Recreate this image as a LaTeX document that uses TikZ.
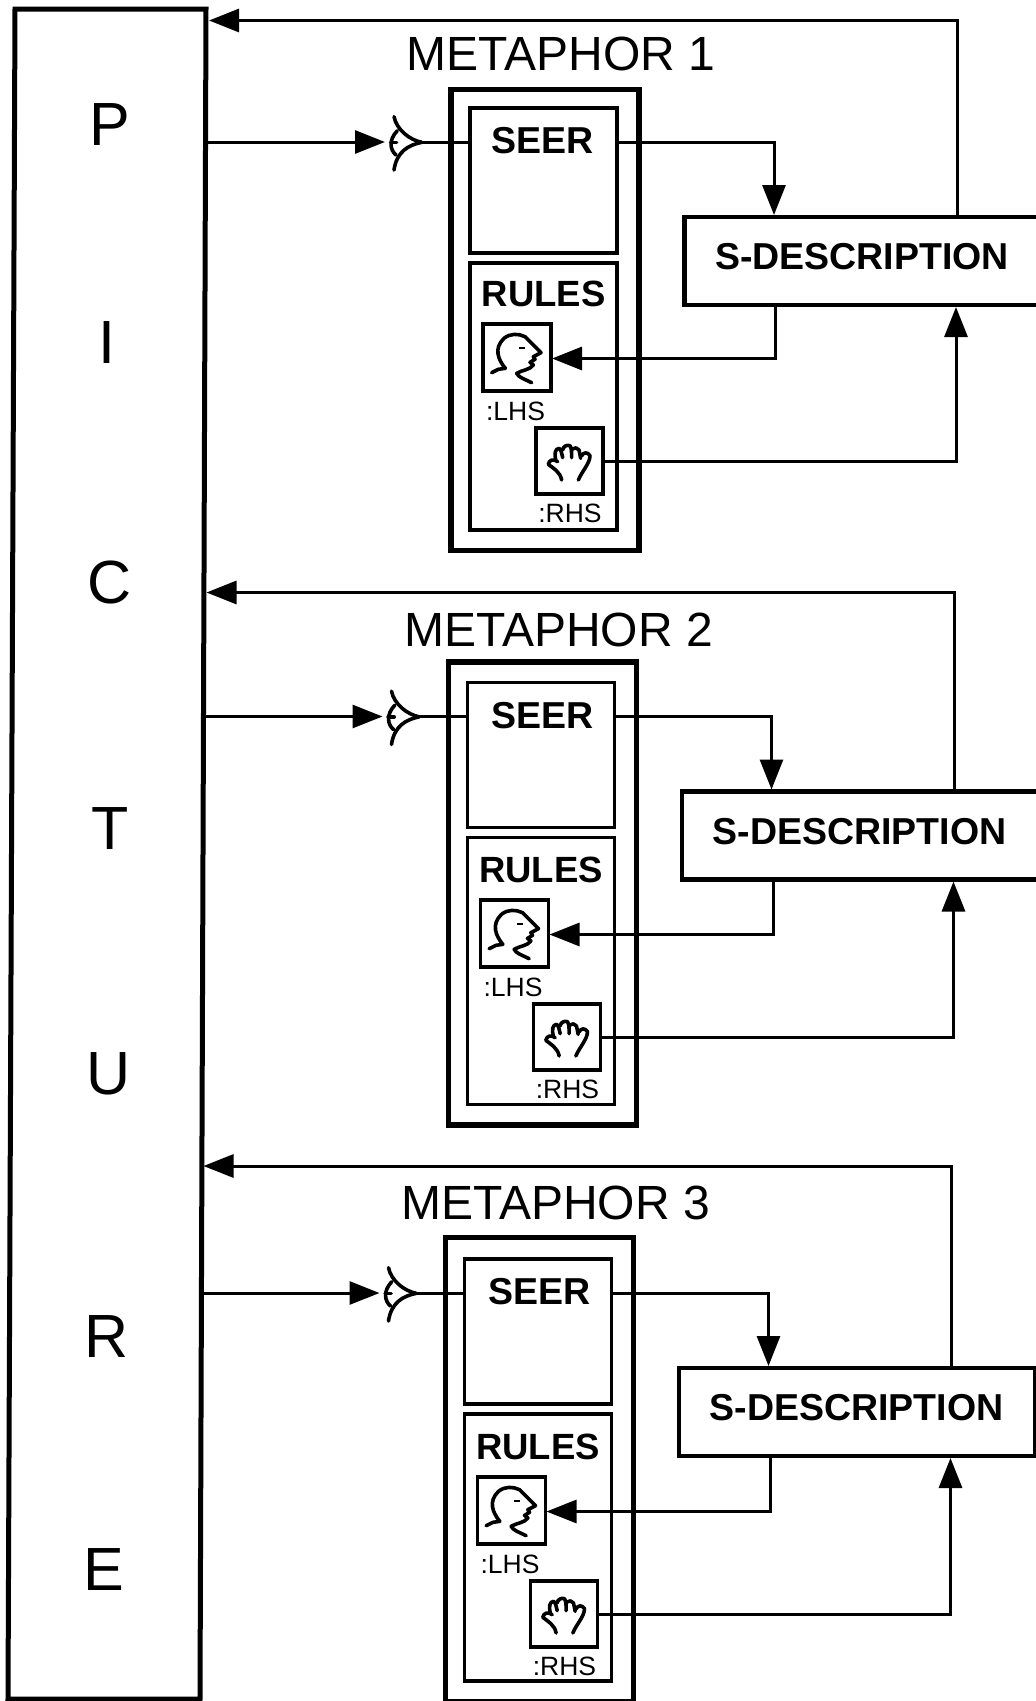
\documentclass[tikz,border=0pt]{standalone}
\usepackage{fontspec}
\setmainfont{Liberation Sans}
\usetikzlibrary{arrows.meta}
\tikzset{
  thickbox/.style={draw,line width=5.5pt,inner sep=0pt,outer sep=0pt},
  midbox/.style={draw,line width=4.5pt,inner sep=0pt,outer sep=0pt},
  innerbox/.style={draw,line width=3.2pt,inner sep=0pt,outer sep=0pt},
  conn/.style={draw,line width=3pt,line join=miter},
  head/.style={-{Triangle[length=30pt,width=23pt]}},
  icon/.style={line width=3.6pt,line cap=round,line join=round},
  titletext/.style={font=\fontsize{48}{48}\selectfont,inner sep=0pt},
  boldtext/.style={font=\fontsize{37.5}{37.5}\selectfont\bfseries,inner sep=0pt},
  rulestext/.style={font=\fontsize{36.5}{36.5}\selectfont\bfseries,inner sep=0pt},
  smalltext/.style={font=\fontsize{26.5}{26.5}\selectfont,inner sep=0pt},
  bigletter/.style={font=\fontsize{61}{61}\selectfont,inner sep=0pt},
}
% #1,#2 group shift; #3 number; #4 SEER text dx; #5 lower block dy; #6 return line dy; #7 title dy; #8 outer top dy
\newcommand{\metaphorgroup}[8]{%
 \begin{scope}[shift={(#1,#2)}]
  \node[titletext] (title#3) at (561,{54+#7}) {METAPHOR #3};
  \node[thickbox,minimum width=188pt,minimum height={461pt-(#8)*1pt}] (outer#3) at (545,{320+(#8)/2}) {};
  \node[innerbox,minimum width=147pt,minimum height=145pt] (seerbox#3) at (543.5,180.5) {};
  \node[boldtext] (seer#3) at ({543+#4},141) {SEER};
  \node[innerbox,minimum width=147pt,minimum height=267pt] (rulesbox#3) at (543.5,396.5) {};
  \node[rulestext] (rules#3) at (543.5,{294+#5}) {RULES};
  \node[innerbox,minimum width=68pt,minimum height=67pt] (lhs#3) at (517,{357.5+#5}) {};
  \node[innerbox,minimum width=67pt,minimum height=66pt] (rhs#3) at (569.5,{461+#5}) {};
  \node[smalltext] (lhslabel#3) at (515.5,{411+#5}) {:LHS};
  \node[smalltext] (rhslabel#3) at (570,{513+#5}) {:RHS};
  \node[midbox,minimum width=356pt,minimum height=88pt] (sdesc#3) at (862.5,261) {};
  \node[boldtext] (sdesctext#3) at (862,257) {S-DESCRIPTION};
  % connector ends
  \coordinate (eyetip#3) at (421,142);
  \coordinate (eyeback#3) at (385,142);
  \coordinate (picout#3) at (206,142);
  \coordinate (picin#3) at (209,{20.5+#6});
  \coordinate (sdtop#3) at (774,215);
  \coordinate (sdback#3) at (957,215);
  \coordinate (sdleft#3) at (775.5,305);
  \coordinate (sdright#3) at (956,307);
  \coordinate (lhsin#3) at (552,{358.5+#5});
  % connectors
  \draw[conn,head] (picout#3) -- (eyeback#3);
  \draw[conn] (eyetip#3) -- (eyetip#3 -| seerbox#3.west);
  \draw[conn,head] (eyetip#3 -| seerbox#3.east) -| (sdtop#3);
  \draw[conn,head] (sdleft#3) |- (lhsin#3);
  \draw[conn,head] (rhs#3.east) -| (sdright#3);
  \draw[conn,head] (sdback#3) |- (picin#3);
  % eye
  \begin{scope}[shift={(380,110)},scale=1/3]
   \draw[icon] (42,20) .. controls (50,60) and (90,90) .. (125,97);
   \draw[icon] (125,97) .. controls (85,105) and (50,125) .. (42,180);
   \draw[icon] (52,62) .. controls (25,90) and (30,120) .. (48,135);
   \draw[icon] (32,97) -- (50,97);
  \end{scope}
  % face
  \begin{scope}[shift={(480,{320+#5})},scale=1/3]
   \draw[icon] (35,158) -- (55,148) -- (76,145) .. controls (55,120) and (40,85) .. (72,55)
     .. controls (90,40) and (115,40) .. (135,50) -- (183,98) -- (160,110) -- (165,118) -- (150,127)
     -- (160,135) .. controls (150,150) and (125,150) .. (110,160)
     .. controls (115,172) and (135,178) .. (155,188);
   \fill (118,80) rectangle (135,88);
  \end{scope}
  % hand
  \begin{scope}[shift={(535,{425+#5})},scale=1/3]
   \draw[icon] (80,165) .. controls (75,140) and (55,130) .. (40,118)
     .. controls (42,105) and (55,100) .. (68,110)
     (62,105) .. controls (58,85) and (60,72) .. (72,70) .. controls (78,72) and (80,85) .. (83,98)
     (83,75) .. controls (84,65) and (95,58) .. (105,62) .. controls (110,70) and (110,85) .. (110,98)
     (112,72) .. controls (118,66) and (128,68) .. (132,75) .. controls (135,85) and (136,90) .. (137,100)
     (140,92) .. controls (145,82) and (158,80) .. (165,92) .. controls (165,115) and (140,140) .. (130,165);
  \end{scope}
 \end{scope}
}
\begin{document}
\begin{tikzpicture}[x=1pt,y=-1pt]
 \useasboundingbox (0,0) rectangle (1036,1701);
 \fill[white] (0,0) rectangle (1036,1701);
 \draw[line width=5pt,line join=miter] (15,9) -- (206,9) -- (200,1699) -- (8,1699) -- cycle;
 \node[bigletter] (p) at (109.5,125) {P};
 \node[bigletter] (i) at (107,343) {I};
 \node[bigletter] (c) at (109.5,582) {C};
 \node[bigletter] (t) at (110.5,829) {T};
 \node[bigletter] (u) at (109,1074) {U};
 \node[bigletter] (r) at (107,1336) {R};
 \node[bigletter] (e) at (104,1569) {E};
 \metaphorgroup{0}{0}{1}{0}{0}{0}{0}{0}
 \metaphorgroup{-2.5}{574.5}{2}{2.5}{1.5}{-2.5}{1}{-2}
 \metaphorgroup{-5.5}{1151}{3}{2}{2}{-5.5}{-2}{-3}
\end{tikzpicture}
\end{document}
